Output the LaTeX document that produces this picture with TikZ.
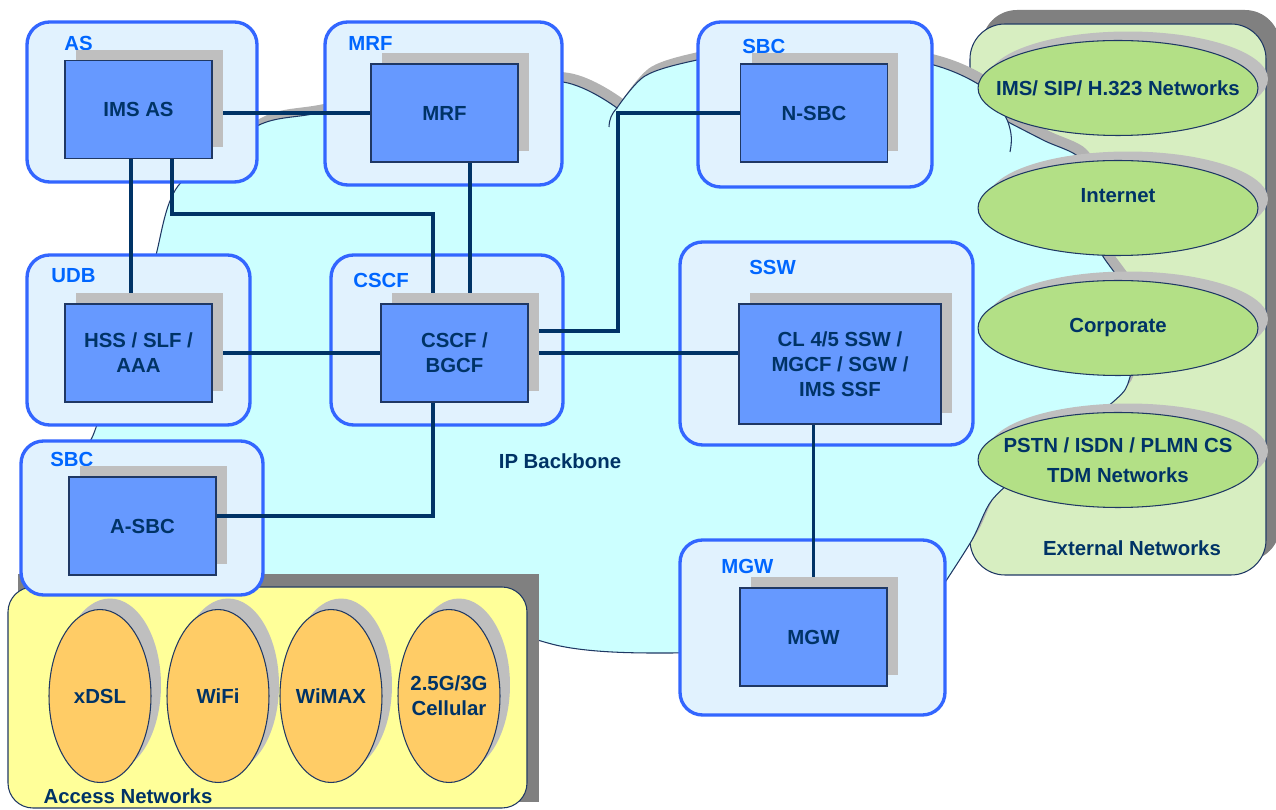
\documentclass[tikz,border=0pt]{standalone}
\usepackage{fontspec}
\setmainfont{Liberation Sans}
\usetikzlibrary{shapes.geometric,shadows}

\definecolor{cloudfill}{HTML}{CCFFFF}
\definecolor{cloudshade}{HTML}{B2B2B2}
\definecolor{boxshade}{HTML}{BFBFBF}
\definecolor{darkshade}{HTML}{808080}
\definecolor{grpfill}{HTML}{E1F2FE}
\definecolor{grpline}{HTML}{3366FF}
\definecolor{unitfill}{HTML}{6699FF}
\definecolor{ink}{HTML}{003366}
\definecolor{tagblue}{HTML}{0066FF}
\definecolor{edge}{HTML}{1F3864}
\definecolor{extfill}{HTML}{D7EEC1}
\definecolor{netfill}{HTML}{B3E086}
\definecolor{accfill}{HTML}{FFFF99}
\definecolor{accoval}{HTML}{FFCC66}

\pgfdeclarelayer{back}
\pgfdeclarelayer{wires}
\pgfsetlayers{back,wires,main}

\newcommand{\nowide}[1]{\makebox[0pt]{#1}}
% outline of the IP backbone cloud, one smooth plot per bump
\newcommand{\cloudoutline}{(130,330)
  -- plot[smooth] coordinates {(130,330) (154,262) (178,186) (257,126) (322,112) (440,80) (563,82) (617,108)}
  -- plot[smooth] coordinates {(617,108) (645,76) (697,60) (800,42) (930,64) (987,90) (1008,122)}
  -- plot[smooth] coordinates {(1008,122) (1045,141) (1080,158) (1100,195) (1092,240)}
  -- plot[smooth] coordinates {(1092,240) (1104,258) (1140,315) (1130,377) (1113,402) (1030,465)}
  -- plot[smooth] coordinates {(1030,465) (992,500) (972,540) (940,590)}
  -- plot[smooth] coordinates {(940,590) (800,645) (660,653) (560,646) (450,610)}
  -- plot[smooth] coordinates {(450,610) (250,600) (60,520) (94,433) (130,330)}
  -- cycle}

\tikzset{
  every node/.style={font=\bfseries\fontsize{11.6}{14.2}\selectfont, text=ink},
  grp/.style={draw=grpline, line width=1.9pt, fill=grpfill, rounded corners=0.45cm, inner sep=0pt},
  tag/.style={anchor=west, inner sep=0pt, text=tagblue},
  unit/.style={draw=edge, line width=0.6pt, fill=unitfill, align=center,
    minimum width=2.94cm, minimum height=1.96cm, inner sep=0pt,
    drop shadow={shadow xshift=0.22cm, shadow yshift=0.22cm, fill=boxshade, opacity=1}},
  netoval/.style={ellipse, draw=edge, line width=0.6pt, fill=netfill, inner sep=0pt,
    minimum width=5.6cm, minimum height=1.9cm,
    drop shadow={shadow xshift=0.2cm, shadow yshift=0.18cm, fill=boxshade, opacity=1}},
  accoval/.style={ellipse, draw=edge, line width=0.6pt, fill=accoval, inner sep=0pt, align=center,
    minimum width=2.04cm, minimum height=3.46cm,
    drop shadow={shadow xshift=0.2cm, shadow yshift=0.22cm, fill=boxshade, opacity=1}},
  wire/.style={draw=ink, line width=1.9pt}
}

\begin{document}
\begin{tikzpicture}[x=0.02cm, y=-0.02cm]
\useasboundingbox (0,0) rectangle (1276,810);

\begin{pgfonlayer}{back}
    % External networks
    \fill[darkshade, rounded corners=0.7cm] (982,10) rectangle (1280,561);
    \draw[edge, line width=0.6pt, fill=extfill, rounded corners=0.7cm] (970,24) rectangle (1266,575);
    % IP backbone
    \fill[cloudshade, shift={(6,-9)}] \cloudoutline;
    \draw[edge, line width=0.6pt, fill=cloudfill] \cloudoutline;
    \draw[edge, line width=0.6pt] (617,108) to[bend right=20] (609,127);
    \draw[edge, line width=0.6pt] (1008,122) to[bend left=15] (1010,152);
    % Access networks
    \fill[darkshade] (18,574) rectangle (539,802);
    \draw[edge, line width=0.6pt, fill=accfill, rounded corners=0.5cm] (8,587) rectangle (527,808);

    % groups
    \node[grp, minimum width=4.6cm, minimum height=3.2cm] (asgrp) at (142,102) {};
    \node[grp, minimum width=4.74cm, minimum height=3.26cm] (mrfgrp) at (443.5,103.5) {};
    \node[grp, minimum width=4.46cm, minimum height=3.4cm] (udbgrp) at (138.5,340) {};
    \node[grp, minimum width=4.64cm, minimum height=3.4cm] (cscfgrp) at (447,340) {};
    \node[grp, minimum width=4.84cm, minimum height=3.08cm] (asbcgrp) at (142,518) {};
    \node[grp, minimum width=4.68cm, minimum height=3.3cm] (nsbcgrp) at (815,104.5) {};
    \node[grp, minimum width=5.86cm, minimum height=4.06cm] (sswgrp) at (826.5,343.5) {};
    \node[grp, minimum width=5.3cm, minimum height=3.5cm] (mgwgrp) at (812.5,627.5) {};

    \node[tag] (astag) at (64,43) {AS};
    \node[tag] (mrftag) at (348,43) {MRF};
    \node[tag] (udbtag) at (51,276) {UDB};
    \node[tag] (cscftag) at (353,280) {CSCF};
    \node[tag] (asbctag) at (50,459) {SBC};
    \node[tag] (nsbctag) at (742,46) {SBC};
    \node[tag] (sswtag) at (749,267) {SSW};
    \node[tag] (mgwtag) at (721,566) {MGW};

    \node (ipbb) at (560,461) {IP Backbone};
    \node (accnet) at (128,796) {Access Networks};
    \node (extnet) at (1132,548) {External Networks};
\end{pgfonlayer}

% external networks
\node[netoval] (ims) at (1118,88) {\nowide{IMS/ SIP/ H.323 Networks}};
\node[netoval, text height=8pt, text depth=14.6pt] (inet) at (1118,208) {\nowide{Internet}};
\node[netoval] (corp) at (1118,328) {\nowide{Corporate}};
\node[netoval, align=center] (pstn) at (1118,460) {\nowide{PSTN / ISDN / PLMN CS}\\[2.8pt]\nowide{TDM Networks}};

% access networks
\node[accoval] (xdsl) at (100,696) {xDSL};
\node[accoval] (wifi) at (218,696) {WiFi};
\node[accoval] (wimax) at (331,696) {WiMAX};
\node[accoval] (cell) at (449,696) {\nowide{2.5G/3G}\\\nowide{Cellular}};

% functions
\node[unit] (imsas) at (138.5,109.5) {IMS AS};
\node[unit] (mrf) at (444.5,113) {MRF};
\node[unit] (hss) at (138.5,353) {HSS / SLF /\\AAA};
\node[unit] (cscf) at (454.5,353) {CSCF /\\BGCF};
\node[unit] (asbc) at (142.5,526) {A-SBC};
\node[unit] (nsbc) at (814,113) {N-SBC};
\node[unit, minimum width=4.04cm, minimum height=2.4cm] (ssw) at (840,364) {CL 4/5 SSW /\\MGCF / SGW /\\IMS SSF};
\node[unit] (mgw) at (813.5,637) {MGW};

\begin{pgfonlayer}{wires}
    \coordinate (j1) at (131,230);
    \coordinate (j2) at (172,214);
    \coordinate (j3) at (433,214);
    \coordinate (j4) at (470,230);
    \coordinate (j5) at (618,331);
    \draw[wire] (imsas |- mrf) -- (mrf);
    \draw[wire] (imsas.south -| j1) -- (hss.north -| j1);
    \draw[wire] (imsas.south -| j2) -- (j2) -- (j3) -- (cscf.north -| j3);
    \draw[wire] (mrf.south -| j4) -- (cscf.north -| j4);
    \draw[wire] (hss) -- (cscf);
    \draw[wire] (cscf.center |- j5) -- (j5) |- (nsbc.west);
    \draw[wire] (cscf) -- (cscf -| ssw.west);
    \draw[wire] (ssw.south -| mgw) -- (mgw);
\end{pgfonlayer}
\coordinate (j6) at (433,516);
\draw[wire] (cscf.south -| j6) -- (j6) -- (j6 -| asbc.east);
\end{tikzpicture}
\end{document}
